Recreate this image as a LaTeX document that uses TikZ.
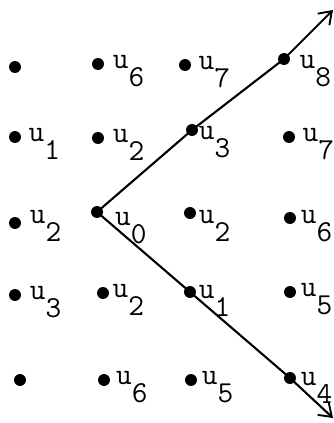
\documentclass[tikz,border=0pt]{standalone}
\usepackage{fontspec}
\usepackage{tikz}
\usetikzlibrary{arrows.meta}
\newcommand{\usub}[1]{u\raisebox{-15pt}{#1}}
\tikzset{
  pt/.style={circle, fill, inner sep=0pt, minimum size=0.36cm},
  lab/.style={anchor=base west, inner sep=0pt, font=\ttfamily\fontsize{26}{30}\selectfont},
  ray/.style={line width=1.8pt, -{Straight Barb[length=10pt,width=14pt,line width=1.6pt]}}
}

\begin{document}
\begin{tikzpicture}
      \useasboundingbox (0,0) rectangle (10.02,12.69);

      % top row
      \node[pt] (A1) at (0.45,10.68) {};
      \node[pt] (A2) at (2.94,10.77) {};
      \node[lab] (LA2) at ([shift={(0.44,-0.14)}]A2.center) {\usub{6}};
      \node[pt] (A3) at (5.55,10.74) {};
      \node[lab] (LA3) at ([shift={(0.4,-0.14)}]A3.center) {\usub{7}};
      \node[pt] (U8) at (8.52,10.92) {};
      \node[lab] (LU8) at ([shift={(0.46,-0.3)}]U8.center) {\usub{8}};

      % second row
      \node[pt] (B1) at (0.45,8.58) {};
      \node[lab] (LB1) at ([shift={(0.4,-0.14)}]B1.center) {\usub{1}};
      \node[pt] (B2) at (2.94,8.55) {};
      \node[lab] (LB2) at ([shift={(0.44,-0.14)}]B2.center) {\usub{2}};
      \node[pt] (U3) at (5.76,8.79) {};
      \node[lab] (LU3) at ([shift={(0.2,-0.3)}]U3.center) {\usub{3}};
      \node[pt] (B4) at (8.67,8.58) {};
      \node[lab] (LB4) at ([shift={(0.4,-0.14)}]B4.center) {\usub{7}};

      % middle row, with the start point
      \node[pt] (C1) at (0.45,6.0) {};
      \node[lab] (LC1) at ([shift={(0.44,-0.02)}]C1.center) {\usub{2}};
      \node[pt] (U0) at (2.91,6.33) {};
      \node[lab] (LU0) at ([shift={(0.54,-0.42)}]U0.center) {\usub{0}};
      \node[pt] (C3) at (5.7,6.3) {};
      \node[lab] (LC3) at ([shift={(0.26,-0.32)}]C3.center) {\usub{2}};
      \node[pt] (C4) at (8.7,6.15) {};
      \node[lab] (LC4) at ([shift={(0.32,-0.17)}]C4.center) {\usub{6}};

      % fourth row
      \node[pt] (D1) at (0.45,3.84) {};
      \node[lab] (LD1) at ([shift={(0.44,-0.14)}]D1.center) {\usub{3}};
      \node[pt] (D2) at (3.09,3.9) {};
      \node[lab] (LD2) at ([shift={(0.28,-0.14)}]D2.center) {\usub{2}};
      \node[pt] (U1) at (5.7,3.93) {};
      \node[lab] (LU1) at ([shift={(0.26,-0.2)}]U1.center) {\usub{1}};
      \node[pt] (D4) at (8.7,3.93) {};
      \node[lab] (LD4) at ([shift={(0.32,-0.14)}]D4.center) {\usub{5}};

      % bottom row
      \node[pt] (E1) at (0.6,1.29) {};
      \node[pt] (E2) at (3.12,1.29) {};
      \node[lab] (LE2) at ([shift={(0.36,-0.14)}]E2.center) {\usub{6}};
      \node[pt] (E3) at (5.73,1.29) {};
      \node[lab] (LE3) at ([shift={(0.32,-0.14)}]E3.center) {\usub{5}};
      \node[pt] (U4) at (8.7,1.35) {};
      \node[lab] (LU4) at ([shift={(0.32,-0.23)}]U4.center) {\usub{4}};

      % free ends of the two rays
      \coordinate (TopEnd) at (9.99,12.39);
      \coordinate (BotEnd) at (9.99,0.15);

      % the two rays from u0
      \draw[ray] (U0.center) -- (U3.center) -- (U8.center) -- (TopEnd);
      \draw[ray] (U0.center) -- (U1.center) -- (U4.center) -- (BotEnd);
    \end{tikzpicture}
\end{document}
